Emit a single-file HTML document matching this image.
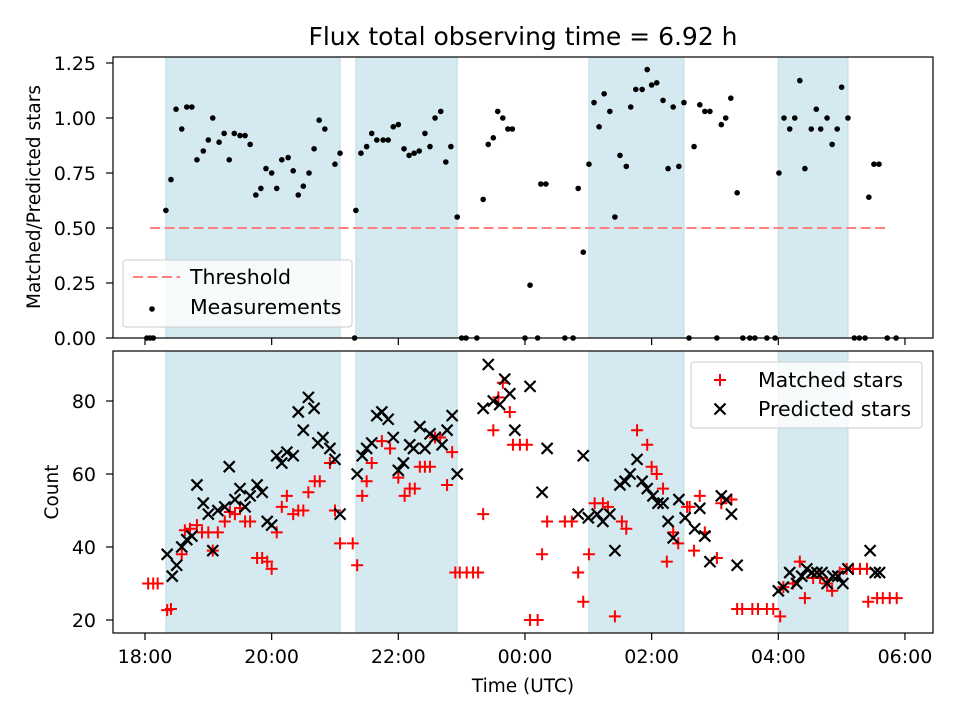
<!DOCTYPE html>
<html><head><meta charset="utf-8"><style>
body{margin:0;background:#fff}
svg{display:block;font-family:"DejaVu Sans","Liberation Sans",sans-serif}
</style></head><body>
<svg id="chart" width="960" height="720" viewBox="0 0 960 720" xmlns="http://www.w3.org/2000/svg">
<rect width="960" height="720" fill="#fff"/>
<g id="spans"></g>
<g id="grid"></g>
<g id="marks"></g>
<g id="axes"></g>
</svg>
<script>
// ---- data (hours since midnight of first day; >24 = next day) ----
const spanStarts=[18.33,21.33,25.01,28.0];
const spanEnds=[21.08,22.93,26.51,29.1];
const thresholdValue=0.5;
const thresholdStart=18.08, thresholdEnd=29.72;
const ratioTimes=[18.03,18.08,18.13,18.33,18.41,18.49,18.58,18.66,18.74,18.82,18.92,19.0,19.07,19.17,19.25,19.33,19.41,19.5,19.58,19.66,19.75,19.83,19.91,20.0,20.08,20.16,20.26,20.34,20.42,20.5,20.59,20.67,20.75,20.84,21.0,21.08,21.31,21.33,21.41,21.5,21.58,21.66,21.76,21.84,21.92,22.0,22.09,22.17,22.25,22.33,22.42,22.5,22.58,22.67,22.75,22.83,22.93,23.0,23.07,23.24,23.34,23.42,23.5,23.57,23.65,23.73,23.8,24.0,24.08,24.2,24.25,24.33,24.63,24.76,24.84,24.92,25.01,25.09,25.17,25.25,25.34,25.42,25.5,25.6,25.67,25.75,25.85,25.93,26.0,26.08,26.18,26.26,26.34,26.43,26.51,26.59,26.67,26.76,26.84,26.92,27.03,27.1,27.17,27.25,27.35,27.44,27.55,27.63,27.82,27.95,28.01,28.09,28.18,28.26,28.34,28.42,28.52,28.6,28.67,28.77,28.85,28.93,29.0,29.1,29.2,29.28,29.37,29.43,29.51,29.59,29.72,29.86];
const ratioValues=[0,0,0,0.58,0.72,1.04,0.95,1.05,1.05,0.81,0.85,0.9,1.0,0.89,0.93,0.81,0.93,0.92,0.92,0.88,0.65,0.68,0.77,0.75,0.68,0.81,0.82,0.76,0.65,0.69,0.75,0.86,0.99,0.95,0.79,0.84,0,0.58,0.84,0.87,0.93,0.9,0.9,0.9,0.96,0.97,0.86,0.83,0.84,0.85,0.93,0.87,1.0,1.03,0.8,0.87,0.55,0,0,0,0.63,0.88,0.91,1.03,1.0,0.95,0.95,0,0.24,0,0.7,0.7,0,0,0.68,0.39,0.79,1.07,0.96,1.11,1.03,0.55,0.83,0.78,1.05,1.13,1.13,1.22,1.15,1.16,1.08,0.77,1.05,0.78,1.07,0,0.87,1.06,1.03,1.03,0,0.97,1.0,1.09,0.66,0,0,0,0,0,0.75,1.0,0.95,1.0,1.17,0.77,0.95,1.04,0.95,1.0,0.88,0.95,1.14,1.0,0,0,0,0.64,0.79,0.79,0,0];
const matchedTimes=[18.05,18.13,18.2,18.35,18.41,18.58,18.63,18.71,18.82,18.9,19.0,19.15,19.07,19.26,19.34,19.42,19.5,19.58,19.66,19.77,19.85,19.93,20.0,20.08,20.16,20.24,20.34,20.42,20.5,20.58,20.68,20.76,20.92,21.0,21.08,21.28,21.35,21.43,21.5,21.58,21.74,21.87,22.0,22.1,22.18,22.26,22.34,22.42,22.5,22.58,22.66,22.77,22.85,22.9,22.97,23.08,23.18,23.26,23.34,23.5,23.58,23.65,23.76,23.81,23.92,24.03,24.08,24.2,24.27,24.35,24.63,24.74,24.84,24.92,25.01,25.1,25.23,25.31,25.42,25.53,25.6,25.77,25.93,26.0,26.08,26.18,26.24,26.34,26.42,26.56,26.6,26.67,26.76,26.84,27.03,27.1,27.26,27.35,27.43,27.59,27.68,27.82,27.92,28.03,28.08,28.23,28.34,28.42,28.55,28.66,28.77,28.85,28.97,29.08,29.18,29.29,29.4,29.42,29.56,29.65,29.76,29.87];
const matchedValues=[30,30,30,22.7,23,38,44.6,45,46,44,44,44,39,47,49.6,49,50.7,47,47,37,37,36,34,44,51,54,49,50,50,55,58,58,63,50,41,41,35,54,58,63,69,67,59,54,56,56,62,62,62,70,70,57,66,33,33,33,33,33,49,72,81,85,77,68,68,68,20,20,38,47,47,47,33,25,38,52,52,51,21,47,45,72,68,62,60,56,36,44,41,51,51,39,54,44,37,52,53,23,23,23,23,23,23,21,29,30,36,26,31.5,31.5,30,28,33,34,34,34,34,25,26,26,26,26];
const predictedTimes=[18.35,18.43,18.5,18.58,18.66,18.74,18.82,18.92,19.0,19.07,19.15,19.26,19.33,19.42,19.5,19.58,19.66,19.77,19.85,19.93,20.0,20.08,20.16,20.24,20.34,20.42,20.5,20.58,20.67,20.73,20.81,20.92,21.0,21.08,21.35,21.43,21.5,21.58,21.66,21.74,21.84,21.92,22.0,22.08,22.18,22.24,22.34,22.42,22.5,22.58,22.69,22.77,22.85,22.93,23.34,23.42,23.5,23.6,23.68,23.76,23.84,24.08,24.27,24.35,24.84,24.92,25.0,25.14,25.23,25.34,25.42,25.5,25.58,25.66,25.77,25.85,25.93,26.02,26.1,26.18,26.26,26.34,26.43,26.53,26.68,26.76,26.84,26.92,27.1,27.18,27.26,27.35,28.0,28.08,28.18,28.29,28.37,28.45,28.53,28.61,28.69,28.77,28.86,28.94,29.02,29.1,29.45,29.53,29.6];
const predictedValues=[38,32,35,40,42,43,57,52,49,39,50,51,62,53,56,51,54,57,55,47,46,65,63,66,65,77,72,81,78,68.5,70,67,64,49,60,65,67,68.5,76,77,75,70,61,63,68,67,73,67,71,70,68,72,76,60,78,90,80,79,86,82,72,84,55,67,49,65,48,49,47,49,39,57,58,60,64,58,56,54,52,52,47,42.5,53,48,45,50.6,43,36,54,53,49,35,28,29,33,30,32,34,33,33,33,30,32,32,30,34,39,33,33];
const ratioTicks=[0,0.25,0.5,0.75,1.0,1.25];
const countTicks=[20,40,60,80];
const timeTicks=[18,20,22,24,26,28,30];
const timeTickLabels=["18:00","20:00","22:00","00:00","02:00","04:00","06:00"];

// ---- layout ----
const L=113,R=933,T1=57,B1=338,T2=351,B2=633;
const xS=t=>145+(t-18)*63.33;
const y1=v=>338-v*220;
const y2=v=>620-(v-20)*3.65;
const NS="http://www.w3.org/2000/svg";
function mk(tag,attrs,parent,txt){const e=document.createElementNS(NS,tag);for(const k in attrs)e.setAttribute(k,attrs[k]);if(txt!==undefined)e.textContent=txt;parent.appendChild(e);return e;}
const spans=document.getElementById('spans'),marks=document.getElementById('marks'),axes=document.getElementById('axes');

for(let i=0;i<spanStarts.length;i++){
  for(const [T,B] of [[T1,B1],[T2,B2]]){
    const r=mk('rect',{x:xS(spanStarts[i]),y:T,width:xS(spanEnds[i])-xS(spanStarts[i]),height:B-T,fill:'#d5eaf0',stroke:'#bcdde6','stroke-width':1},spans);
    
    
  }
}
const th=mk('line',{x1:xS(thresholdStart),x2:xS(thresholdEnd),y1:y1(thresholdValue),y2:y1(thresholdValue),stroke:'#ff7f7f','stroke-width':2,'stroke-dasharray':'10,4.5'},marks);


for(let i=0;i<ratioTimes.length;i++){
  const c=mk('circle',{cx:xS(ratioTimes[i]),cy:y1(ratioValues[i]),r:2.8,fill:'#000'},marks);
  
  
}
for(let i=0;i<matchedTimes.length;i++){
  const x=xS(matchedTimes[i]),y=y2(matchedValues[i]);
  const p=mk('path',{d:`M${x-6},${y}H${x+6}M${x},${y-6}V${y+6}`,stroke:'#ff0000','stroke-width':2,fill:'none'},marks);
  
  
}
for(let i=0;i<predictedTimes.length;i++){
  const x=xS(predictedTimes[i]),y=y2(predictedValues[i]);
  const p=mk('path',{d:`M${x-5.5},${y-5.5}L${x+5.5},${y+5.5}M${x-5.5},${y+5.5}L${x+5.5},${y-5.5}`,stroke:'#000','stroke-width':2.2,fill:'none'},marks);
  
  
}
for(const [T,B,n] of [[T1,B1,'top-plot-frame'],[T2,B2,'bottom-plot-frame']]){
  const f=mk('rect',{x:L,y:T,width:R-L,height:B-T,fill:'none',stroke:'#000','stroke-width':1.2},axes);
  
  
}
ratioTicks.forEach(v=>{
  mk('line',{x1:L-7,x2:L,y1:y1(v),y2:y1(v),stroke:'#000','stroke-width':1.2},axes);
  const t=mk('text',{x:L-17,y:y1(v)+7,'text-anchor':'end','font-size':19},axes,v.toFixed(2));
  
  
});
countTicks.forEach(v=>{
  mk('line',{x1:L-7,x2:L,y1:y2(v),y2:y2(v),stroke:'#000','stroke-width':1.2},axes);
  const t=mk('text',{x:L-17,y:y2(v)+7,'text-anchor':'end','font-size':19},axes,String(v));
  
  
});
timeTicks.forEach((h,i)=>{
  mk('line',{x1:xS(h),x2:xS(h),y1:B1,y2:B1+7,stroke:'#000','stroke-width':1.2},axes);
  mk('line',{x1:xS(h),x2:xS(h),y1:B2,y2:B2+7,stroke:'#000','stroke-width':1.2},axes);
  const t=mk('text',{x:xS(h),y:B2+30,'text-anchor':'middle','font-size':19},axes,timeTickLabels[i]);
  
  
});
</script>
<svg style="position:absolute;left:0;top:0" width="960" height="720" font-family="DejaVu Sans, Liberation Sans, sans-serif">
<text x="523" y="45" text-anchor="middle" font-size="25">Flux total observing time = 6.92 h</text>
<text transform="translate(40,197) rotate(-90)" text-anchor="middle" font-size="18.5">Matched/Predicted stars</text>
<text transform="translate(58,492) rotate(-90)" text-anchor="middle" font-size="18.5">Count</text>
<text x="523" y="692" text-anchor="middle" font-size="18.5">Time (UTC)</text>
<g>
<rect x="123" y="260" width="229" height="67" rx="3" fill="#fff" fill-opacity="0.8" stroke="#ccc"/>
<line x1="133" y1="277" x2="180" y2="277" stroke="#ff7f7f" stroke-width="2" stroke-dasharray="10,4.5"/>
<text x="190" y="284" font-size="20.5">Threshold</text>
<circle cx="152" cy="309" r="2.8" fill="#000"/>
<text x="190" y="314" font-size="20.5">Measurements</text>
</g>
<g>
<rect x="691" y="362" width="231" height="66" rx="3" fill="#fff" fill-opacity="0.8" stroke="#ccc"/>
<path d="M714,380H726M720,374V386" stroke="#f00" stroke-width="2"/>
<text x="758" y="387" font-size="20.5">Matched stars</text>
<path d="M714.5,403.5L725.5,414.5M714.5,414.5L725.5,403.5" stroke="#000" stroke-width="2.2"/>
<text x="758" y="416" font-size="20.5">Predicted stars</text>
</g>
</svg>
</body></html>
